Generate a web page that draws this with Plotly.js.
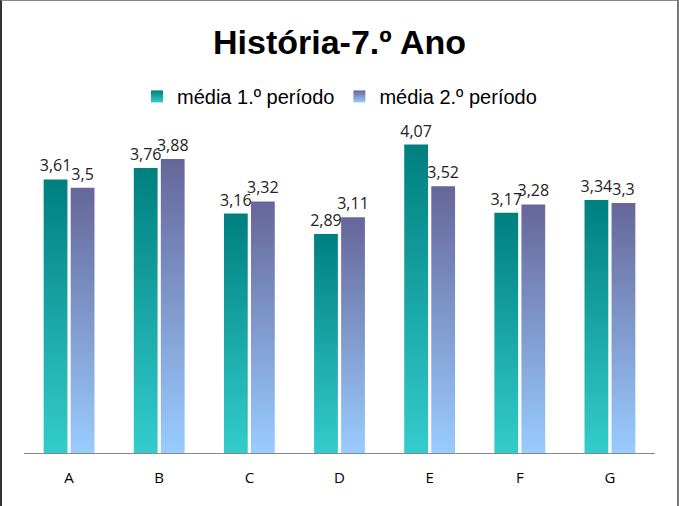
<!DOCTYPE html>
<html><head><meta charset="utf-8">
<script src="https://cdn.plot.ly/plotly-3.0.1.min.js"></script>
<style>
html,body{margin:0;padding:0;background:#fff;}
#frame{position:absolute;left:0;top:0;width:679px;height:506px;box-sizing:border-box;border-left:2px solid #333;border-top:1px solid #888;border-right:2px solid #777;}
#chart{position:absolute;left:0;top:0;width:679px;height:506px;}
</style></head>
<body>
<div id="chart"></div>
<div id="frame"></div>
<script>
const categories = ['A','B','C','D','E','F','G'];
const periodo1 = [3.61, 3.76, 3.16, 2.89, 4.07, 3.17, 3.34];
const periodo2 = [3.5, 3.88, 3.32, 3.11, 3.52, 3.28, 3.3];
const seriesNames = ['média 1.º período', 'média 2.º período'];
const fmt = v => String(v).replace('.', ',');

const common = {type:'bar', x:categories, textposition:'outside', cliponaxis:false, constraintext:'none',
  textfont:{family:'Open Sans, Liberation Sans, sans-serif', size:16, color:'#222'}, hoverinfo:'skip'};
const data = [
  Object.assign({}, common, {name:seriesNames[0], y:periodo1, text:periodo1.map(fmt), marker:{color:'#1a9e9e'}}),
  Object.assign({}, common, {name:seriesNames[1], y:periodo2, text:periodo2.map(fmt), marker:{color:'#7f8fc0'}})
];
const layout = {
  width:679, height:506, margin:{l:24, r:24, t:112, b:53, autoexpand:false},
  paper_bgcolor:'#fff', plot_bgcolor:'#fff',
  title:{text:'<b>História-7.º Ano</b>', x:0.5, xanchor:'center', y:0.917, yanchor:'middle',
    font:{family:'Liberation Sans Narrow, Arial Narrow, sans-serif', size:34, color:'#000'}},
  showlegend:true,
  legend:{orientation:'h', x:0.5, xanchor:'center', y:0.848, yref:'container', yanchor:'top',
    font:{family:'Liberation Sans, Arial, sans-serif', size:20, color:'#000'}, itemwidth:30, traceorder:'normal'},
  bargap:0.4, bargroupgap:0.12,
  xaxis:{showline:true, linecolor:'#888', linewidth:1, ticks:'', ticklabelstandoff:11,
    tickfont:{family:'Open Sans, sans-serif', size:15, color:'#000'}, fixedrange:true},
  yaxis:{range:[0,4.5], visible:false, showgrid:false, zeroline:false, fixedrange:true}
};
Plotly.newPlot('chart', data, layout, {displayModeBar:false, staticPlot:true}).then(gd => {
  const svg = gd.querySelector('svg.main-svg');
  const ns = 'http://www.w3.org/2000/svg';
  let defs = svg.querySelector('defs');
  const mk = (id, c1, c2) => {
    const g = document.createElementNS(ns, 'linearGradient');
    g.setAttribute('id', id); g.setAttribute('x1','0'); g.setAttribute('y1','0'); g.setAttribute('x2','0'); g.setAttribute('y2','1');
    [[0,c1],[1,c2]].forEach(([o,c]) => { const s = document.createElementNS(ns,'stop'); s.setAttribute('offset',o); s.setAttribute('stop-color',c); g.appendChild(s); });
    defs.appendChild(g);
  };
  mk('grad1', '#007f7f', '#33cccc');
  mk('grad2', '#666699', '#99ccff');
  const traces = gd.querySelectorAll('.barlayer .trace');
  traces.forEach((t, i) => t.querySelectorAll('path').forEach(p => p.style.fill = 'url(#grad' + (i+1) + ')'));
  const legs = gd.querySelectorAll('.legend .traces');
  legs.forEach((t, i) => t.querySelectorAll('.legendpoints path').forEach(p => p.style.fill = 'url(#grad' + (i+1) + ')'));
});
</script>
</body></html>
